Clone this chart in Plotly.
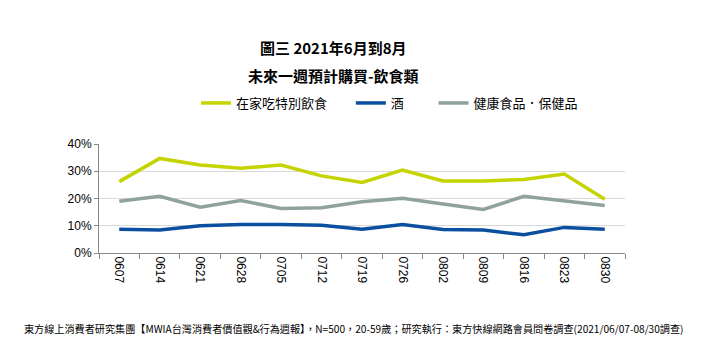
import plotly.graph_objects as go

categories = ["0607", "0614", "0621", "0628", "0705", "0712", "0719",
              "0726", "0802", "0809", "0816", "0823", "0830"]
home_food = [26.2, 34.7, 32.3, 31.1, 32.3, 28.3, 25.9, 30.4, 26.4, 26.4, 27.0, 29.0, 19.7]
alcohol = [8.7, 8.4, 10.0, 10.5, 10.5, 10.2, 8.7, 10.5, 8.6, 8.4, 6.7, 9.4, 8.7]
health = [19.0, 20.8, 16.8, 19.3, 16.3, 16.6, 18.8, 20.1, 18.0, 16.0, 20.8, 19.0, 17.4]
series_names = ["在家吃特別飲食", "酒", "健康食品．保健品"]
legend_pad = ["\u3000\u00a0\u00a0", "\u3000\u00a0\u00a0\u00a0\u00a0", ""]
y_ticks = [0, 10, 20, 30, 40]
y_tick_labels = ["0%", "10%", "20%", "30%", "40%"]

title1 = "圖三 2021年6月到8月"
title2 = "未來一週預計購買-飲食類"
footnote = "東方線上消費者研究集團【MWIA台灣消費者價值觀&行為週報】，N=500，20-59歲；研究執行：東方快線網路會員問卷調查(2021/06/07-08/30調查)"

colors = ["#C5D400", "#0A4FA0", "#8FA39B"]
cjk = "Noto Sans CJK TC, Liberation Sans, sans-serif"

fig = go.Figure()
for name, pad, vals, c in zip(series_names, legend_pad, [home_food, alcohol, health], colors):
    fig.add_trace(go.Scatter(x=categories, y=vals, name=name + pad, mode="lines",
                             line=dict(color=c, width=3.5)))

fig.update_layout(
    width=703, height=350,
    margin=dict(l=99, r=78, t=144, b=97),
    paper_bgcolor="white", plot_bgcolor="white",
    showlegend=True,
    legend=dict(orientation="h", x=(196 - 99) / 526, xanchor="left",
                y=1 + (144 - 103) / 109, yanchor="middle",
                font=dict(family=cjk, size=13, color="#000"),
                itemwidth=30, tracegroupgap=0),
    xaxis=dict(type="category", tickson="boundaries", ticks="outside", ticklen=5,
               tickcolor="#888", showline=True, linecolor="#888", linewidth=1,
               showgrid=False, tickangle=90,
               tickfont=dict(family="Liberation Sans, Arial", size=12, color="#000"),
               range=[-0.5, 12.5]),
    yaxis=dict(range=[0, 40], tickvals=y_ticks, ticktext=y_tick_labels,
               showline=True, linecolor="#888", linewidth=1,
               ticks="outside", ticklen=4, tickcolor="#888",
               showgrid=True, gridcolor="#D9D9D9", gridwidth=1, zeroline=False,
               tickfont=dict(family="Liberation Sans, Arial", size=12, color="#000")),
    annotations=[
        dict(text="<b>" + title1 + "</b>", xref="paper", yref="paper",
             x=(333 - 99) / 526, y=1 + (144 - 47) / 109, xanchor="center", yanchor="middle",
             showarrow=False, font=dict(family=cjk, size=15, color="#000")),
        dict(text="<b>" + title2 + "</b>", xref="paper", yref="paper",
             x=(333 - 99) / 526, y=1 + (144 - 75) / 109, xanchor="center", yanchor="middle",
             showarrow=False, font=dict(family=cjk, size=15, color="#000")),
        dict(text=footnote, xref="paper", yref="paper",
             x=(22 - 99) / 526, y=-(328.5 - 253) / 109, xanchor="left", yanchor="middle",
             showarrow=False, font=dict(family=cjk, size=10.15, color="#000")),
    ],
)

fig.write_html("out.html")
